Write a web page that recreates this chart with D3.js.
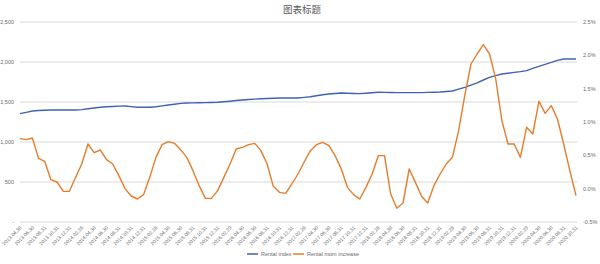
<!DOCTYPE html>
<html>
<head>
<meta charset="utf-8">
<script src="https://cdn.jsdelivr.net/npm/d3@7"></script>
<style>
  body { margin: 0; background: #fff; }
  svg { display: block; font-family: "Liberation Sans", Arial, sans-serif; }
</style>
</head>
<body>
<div id="chart"></div>
<script>
// monthly categories
const months = [
  "2013.04.30","2013.05.31","2013.06.30","2013.07.31","2013.08.31","2013.09.30","2013.10.31","2013.11.30","2013.12.31",
  "2014.01.31","2014.02.28","2014.03.31","2014.04.30","2014.05.31","2014.06.30","2014.07.31","2014.08.31","2014.09.30","2014.10.31","2014.11.30","2014.12.31",
  "2015.01.31","2015.02.28","2015.03.31","2015.04.30","2015.05.31","2015.06.30","2015.07.31","2015.08.31","2015.09.30","2015.10.31","2015.11.30","2015.12.31",
  "2016.01.31","2016.02.29","2016.03.31","2016.04.30","2016.05.31","2016.06.30","2016.07.31","2016.08.31","2016.09.30","2016.10.31","2016.11.30","2016.12.31",
  "2017.01.31","2017.02.28","2017.03.31","2017.04.30","2017.05.31","2017.06.30","2017.07.31","2017.08.31","2017.09.30","2017.10.31","2017.11.30","2017.12.31",
  "2018.01.31","2018.02.28","2018.03.31","2018.04.30","2018.05.31","2018.06.30","2018.07.31","2018.08.31","2018.09.30","2018.10.31","2018.11.30","2018.12.31",
  "2019.01.31","2019.02.28","2019.03.31","2019.04.30","2019.05.31","2019.06.30","2019.07.31","2019.08.31","2019.09.30","2019.10.31","2019.11.30","2019.12.31",
  "2020.01.31","2020.02.29","2020.03.31","2020.04.30","2020.05.31","2020.06.30","2020.07.31","2020.08.31","2020.09.30","2020.10.31"
];

const rentalIndex = [
  1354,1370,1387,1393,1397,1400,1400,1400,1400,1400,
  1405,1415,1425,1435,1440,1444,1448,1450,1442,1434,
  1434,1434,1440,1452,1462,1472,1483,1487,1489,1491,
  1492,1494,1496,1503,1510,1518,1525,1531,1536,1541,
  1544,1547,1550,1550,1550,1550,1558,1566,1578,1590,
  1600,1606,1612,1610,1607,1605,1610,1615,1621,1620,
  1619,1617,1617,1617,1617,1617,1620,1622,1625,1631,
  1637,1660,1683,1712,1740,1775,1808,1830,1850,1860,
  1870,1880,1892,1921,1945,1971,1995,2021,2037,2037,2037
];

// percent
const momIncrease = [
  0.75,0.735,0.76,0.455,0.41,0.135,0.10,-0.04,-0.04,0.17,
  0.37,0.67,0.54,0.58,0.435,0.37,0.195,0.0,-0.11,-0.155,
  -0.09,0.17,0.47,0.66,0.705,0.68,0.585,0.47,0.27,0.045,
  -0.145,-0.145,-0.03,0.17,0.37,0.595,0.62,0.66,0.68,0.57,
  0.37,0.035,-0.055,-0.07,0.07,0.22,0.40,0.57,0.66,0.695,
  0.645,0.495,0.30,0.02,-0.09,-0.155,0.02,0.22,0.495,0.495,
  -0.08,-0.295,-0.215,0.295,0.095,-0.115,-0.215,0.045,0.22,0.37,
  0.47,0.87,1.40,1.87,2.02,2.16,2.02,1.65,1.02,0.67,
  0.67,0.47,0.92,0.82,1.31,1.13,1.245,1.045,0.67,0.27,-0.105
];

const leftTicks = [0, 500, 1000, 1500, 2000, 2500];
const rightTicks = [-0.5, 0, 0.5, 1.0, 1.5, 2.0, 2.5];
const seriesNames = ["Rental index", "Rental mom increase"];
const title = "图表标题";

const width = 600, height = 264;
const blue = "#3F63B0", orange = "#E57D2C", textColor = "#6b6b6b";

const svg = d3.select("#chart").append("svg")
  .attr("width", width)
  .attr("height", height);

const x = d3.scalePoint().domain(months).range([20, 576]);
const yL = d3.scaleLinear().domain([0, 2500]).range([222, 22]);
const yR = d3.scaleLinear().domain([-0.5, 2.5]).range([222, 22]);

// title
svg.append("text")
  .attr("x", 302).attr("y", 13)
  .attr("text-anchor", "middle")
  .style("font-family", "'Noto Sans CJK SC', sans-serif")
  .style("font-size", "9.5px")
  .attr("fill", "#595959")
  .text(title);

// gridlines
svg.append("g").selectAll("line").data(leftTicks).enter()
  .append("line")
  .attr("x1", 20).attr("x2", 577)
  .attr("y1", d => yL(d)).attr("y2", d => yL(d))
  .attr("stroke", "#D9D9D9")
  .attr("stroke-width", 1);

// left axis labels
const fmtL = d => d === 0 ? "-" : d3.format(",")(d);
svg.append("g").selectAll("text").data(leftTicks).enter()
  .append("text")
  .attr("x", 14).attr("y", d => yL(d))
  .attr("dy", "0.35em")
  .attr("text-anchor", "end")
  .style("font-size", "5.5px")
  .attr("fill", textColor)
  .text(fmtL);

// right axis labels
svg.append("g").selectAll("text").data(rightTicks).enter()
  .append("text")
  .attr("x", 583).attr("y", d => yR(d))
  .attr("dy", "0.35em")
  .attr("text-anchor", "start")
  .style("font-size", "5.5px")
  .attr("fill", textColor)
  .text(d => d.toFixed(1) + "%");

// x labels every other month
const xLabels = months.filter((d, i) => i % 2 === 0);
svg.append("g").selectAll("text").data(xLabels).enter()
  .append("text")
  .attr("transform", d => "translate(" + (x(d) + 2) + ",228) rotate(-45)")
  .attr("text-anchor", "end")
  .style("font-size", "5px")
  .attr("fill", textColor)
  .text(d => d);

// lines
const lineL = d3.line().x((d, i) => x(months[i])).y(d => yL(d));
const lineR = d3.line().x((d, i) => x(months[i])).y(d => yR(d));

svg.append("path")
  .attr("d", lineL(rentalIndex))
  .attr("fill", "none")
  .attr("stroke", blue)
  .attr("stroke-width", 1.4)
  .attr("stroke-linejoin", "round");

svg.append("path")
  .attr("d", lineR(momIncrease))
  .attr("fill", "none")
  .attr("stroke", orange)
  .attr("stroke-width", 1.4)
  .attr("stroke-linejoin", "round");

// legend
const legend = svg.append("g").attr("transform", "translate(247,254)");
const legendPos = [0, 46];
const legendColors = [blue, orange];
seriesNames.forEach((name, i) => {
  const g = legend.append("g").attr("transform", "translate(" + legendPos[i] + ",0)");
  g.append("line").attr("x1", 0).attr("x2", 11).attr("y1", 0).attr("y2", 0)
    .attr("stroke", legendColors[i]).attr("stroke-width", 1.5);
  g.append("text").attr("x", 14).attr("y", 0).attr("dy", "0.35em")
    .style("font-size", "5.5px").attr("fill", textColor).text(name);
});
</script>
</body>
</html>
